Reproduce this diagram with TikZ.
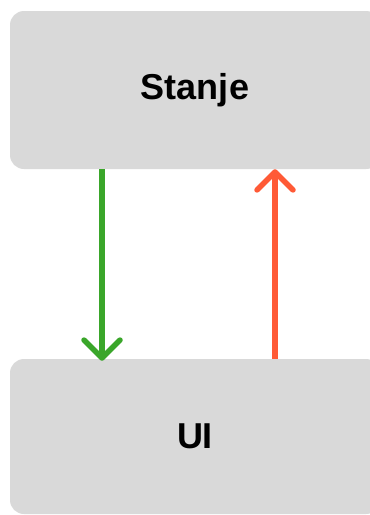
\documentclass[tikz,border=0pt]{standalone}
\usepackage{fontspec}
\setmainfont{Liberation Sans}
\usetikzlibrary{arrows.meta}
\definecolor{boxgray}{HTML}{D9D9D9}
\definecolor{flowgreen}{HTML}{3AA62A}
\definecolor{flowred}{HTML}{FF5A36}
\tikzset{
    every node/.style={rectangle, rounded corners=14pt, fill=boxgray,
    	minimum width=370pt, font=\fontsize{36}{42}\selectfont\bfseries}
}
\tikzset{
    flow/.style={line width=5.5pt,
    	-{Straight Barb[length=18pt, width=36pt, round]}}
}

\begin{document}
\begin{tikzpicture}[x=1pt, y=-1pt]
	\useasboundingbox (0,0) rectangle (370,515);
	\node (stanje) [minimum height=158pt] at (195, 90) {Stanje};
	\node (ui) [minimum height=155pt] at (195, 436.5) {UI};
	
	\draw [flow, color=flowgreen] ([xshift=-93pt]stanje.south) -- ([xshift=-93pt, yshift=-2pt]ui.north);
	\draw [flow, color=flowred] ([xshift=80pt]ui.north) -- ([xshift=80pt]stanje.south);
\end{tikzpicture}
\end{document}
